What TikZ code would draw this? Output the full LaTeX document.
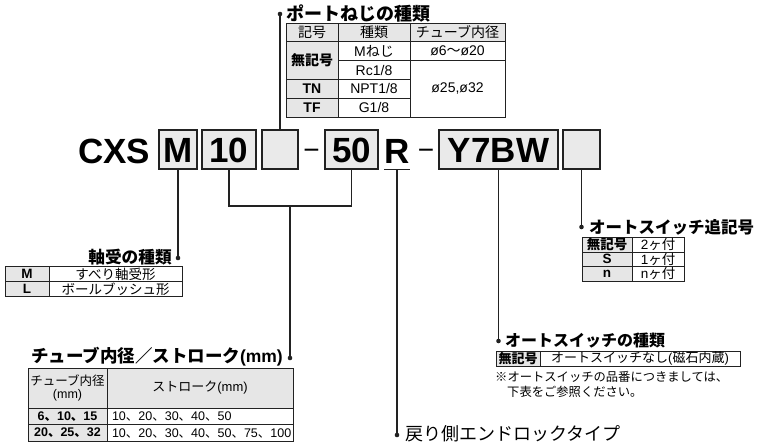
\documentclass[tikz,border=0pt]{standalone}
\usepackage{fontspec}
\setmainfont{Liberation Sans}
\newfontfamily\jp{Noto Sans CJK JP}
\newcommand\myfs[1]{\fontsize{#1}{#1}\selectfont}
\definecolor{cellgray}{HTML}{E6E6E6}
\definecolor{boxgray}{HTML}{EAEAEA}
\definecolor{ink}{HTML}{222222}
\tikzset{
  ln/.style={line width=1.1pt, draw=ink},
  dotn/.style={circle, fill=ink, inner sep=0pt, minimum size=4.6pt},
  codebox/.style={draw=ink, line width=1.2pt, fill=boxgray, minimum height=39pt,
    inner sep=0pt, text height=25pt, text depth=0pt, font=\myfs{35}\bfseries},
  codetxt/.style={inner sep=0pt, font=\myfs{35}\bfseries},
  dashtxt/.style={inner sep=0pt, font=\myfs{28}, anchor=base},
  cell/.style={draw=ink, line width=0.7pt, inner sep=0pt, align=center},
  gcell/.style={cell, fill=cellgray},
  title/.style={inner sep=0pt, font=\myfs{17}\bfseries\jp},
}
\begin{document}
\begin{tikzpicture}[x=1pt,y=-1pt]
\useasboundingbox (0,0) rectangle (758,445);
\fill[white] (0,0) rectangle (758,445);

% ---------- code line ----------
\node[codetxt, anchor=base west] (cxs) at (78,163) {CXS};
\node[codebox, minimum width=38pt]  (e1) at (178,149.5) {M};
\node[codebox, minimum width=54pt]  (e2) at (229,149.5) {10};
\node[codebox, minimum width=36pt]  (e3) at (280,149.5) {};
\node[dashtxt] (m1) at (311.5,159) {−};
\node[codebox, minimum width=53pt]  (e4) at (351.5,149.5) {50};
\node[codetxt, anchor=base] (rr) at (397,163) {R};
\node[dashtxt] (m2) at (426,159) {−};
\node[codebox, minimum width=119pt] (e5) at (498.5,149.5) {Y7BW};
\node[codebox, minimum width=37pt]  (e6) at (581.5,149.5) {};
\coordinate (ru) at (rr.base |- e1.south);
\draw[ln] (rr.west |- e1.south) -- (rr.east |- e1.south);

% ---------- dots ----------
\node[dotn] (d1) at (280,14) {};
\node[dotn] (d2) at (178,258) {};
\node[dotn] (d3) at (290,358) {};
\node[dotn] (d4) at (397,435) {};
\node[dotn] (d5) at (498.5,341) {};
\node[dotn] (d6) at (581.5,227) {};
\coordinate (bj) at (290,206);

% ---------- connectors ----------
\draw[ln] (e3.north) -- (d1.center);
\draw[ln] (e1.south) -- (d2.center);
\draw[ln] (e2.south) |- (bj) -| (e4.south);
\draw[ln] (bj) -- (d3.center);
\draw[ln] (ru) -- (d4.center);
\draw[ln] (e5.south) -- (d5.center);
\draw[ln] (e6.south) -- (d6.center);

% ---------- titles ----------
\node[title, anchor=west, font=\myfs{18}\bfseries\jp] (t1) at (286,13) {ポートねじの種類};
\node[title, anchor=east, font=\myfs{16.7}\bfseries\jp] (t2) at (172,257) {軸受の種類};
\node[title, anchor=east, font=\myfs{17.5}\bfseries] (t3) at (283,357) {{\jp チューブ内径／ストローク}(mm)};
\node[title, anchor=west, font=\myfs{16.5}\bfseries\jp] (t4) at (589,227) {オートスイッチ追記号};
\node[title, anchor=west, font=\myfs{16}\bfseries\jp] (t5) at (505,341) {オートスイッチの種類};
\node[title, anchor=west, font=\myfs{18}\jp] (t6) at (405,434) {戻り側エンドロックタイプ};

% ---------- port thread table ----------
\begin{scope}[every node/.append style={font=\myfs{14}}]
\node[gcell, minimum width=52pt, minimum height=18.8pt] (h1) at (312,32.4) {\jp 記号};
\node[gcell, minimum width=72pt, minimum height=18.8pt] (h2) at (374,32.4) {\jp 種類};
\node[gcell, minimum width=95pt, minimum height=18.8pt] (h3) at (457.5,32.4) {\jp チューブ内径};
\node[gcell, minimum width=52pt, minimum height=37.6pt, font=\myfs{14}\bfseries\jp] (a1) at (312,60.6) {無記号};
\node[gcell, minimum width=52pt, minimum height=18.8pt, font=\myfs{14}\bfseries] (a3) at (312,88.8) {TN};
\node[gcell, minimum width=52pt, minimum height=18.8pt, font=\myfs{14}\bfseries] (a4) at (312,107.6) {TF};
\node[cell, minimum width=72pt, minimum height=18.8pt] (b1) at (374,51.2) {M{\jp ねじ}};
\node[cell, minimum width=72pt, minimum height=18.8pt] (b2) at (374,70) {Rc1/8};
\node[cell, minimum width=72pt, minimum height=18.8pt] (b3) at (374,88.8) {NPT1/8};
\node[cell, minimum width=72pt, minimum height=18.8pt] (b4) at (374,107.6) {G1/8};
\node[cell, minimum width=95pt, minimum height=18.8pt] (c1) at (457.5,51.2) {ø6{\jp 〜}ø20};
\node[cell, minimum width=95pt, minimum height=56.4pt] (c2) at (457.5,88.8) {ø25,ø32};
\end{scope}

% ---------- bearing table ----------
\begin{scope}[every node/.append style={font=\myfs{13.5}}]
\node[gcell, minimum width=44pt, minimum height=15pt, font=\myfs{13.5}\bfseries] (g1) at (27,274) {M};
\node[cell, minimum width=133pt, minimum height=15pt] (g2) at (115.5,274) {\jp すべり軸受形};
\node[gcell, minimum width=44pt, minimum height=15pt, font=\myfs{13.5}\bfseries] (g3) at (27,289) {L};
\node[cell, minimum width=133pt, minimum height=15pt] (g4) at (115.5,289) {\jp ボールブッシュ形};
\end{scope}

% ---------- bore / stroke table ----------
\begin{scope}[every node/.append style={font=\myfs{12.5}}]
\node[gcell, minimum width=79pt, minimum height=40pt] (s1) at (67.5,388) {{\jp チューブ内径}\\(mm)};
\node[gcell, minimum width=186pt, minimum height=40pt, font=\myfs{13}] (s2) at (200,388) {{\jp ストローク}(mm)};
\node[gcell, minimum width=79pt, minimum height=16.5pt, font=\myfs{12.5}\bfseries] (s3) at (67.5,416.25) {6{\jp 、}10{\jp 、}15};
\node[cell, minimum width=186pt, minimum height=16.5pt, text width=176pt, align=left] (s4) at (200,416.25) {10{\jp 、}20{\jp 、}30{\jp 、}40{\jp 、}50};
\node[gcell, minimum width=79pt, minimum height=17pt, font=\myfs{12.5}\bfseries] (s5) at (67.5,433) {20{\jp 、}25{\jp 、}32};
\node[cell, minimum width=186pt, minimum height=17pt, text width=176pt, align=left] (s6) at (200,433) {10{\jp 、}20{\jp 、}30{\jp 、}40{\jp 、}50{\jp 、}75{\jp 、}100};
\end{scope}

% ---------- switch count table ----------
\begin{scope}[every node/.append style={font=\myfs{13.5}}]
\node[gcell, minimum width=50pt, minimum height=14.5pt, font=\myfs{13.5}\bfseries\jp] (k1) at (607,244.75) {無記号};
\node[cell, minimum width=52pt, minimum height=14.5pt] (k2) at (658,244.75) {2{\jp ヶ付}};
\node[gcell, minimum width=50pt, minimum height=14.5pt, font=\myfs{13.5}\bfseries] (k3) at (607,259.25) {S};
\node[cell, minimum width=52pt, minimum height=14.5pt] (k4) at (658,259.25) {1{\jp ヶ付}};
\node[gcell, minimum width=50pt, minimum height=14.5pt, font=\myfs{13.5}\bfseries] (k5) at (607,273.75) {n};
\node[cell, minimum width=52pt, minimum height=14.5pt] (k6) at (658,273.75) {n{\jp ヶ付}};
\end{scope}

% ---------- switch type ----------
\node[gcell, minimum width=44pt, minimum height=15pt, font=\myfs{13}\bfseries\jp] (w1) at (518,358.5) {無記号};
\node[cell, minimum width=200pt, minimum height=15pt, font=\myfs{13}] (w2) at (640,358.5) {{\jp オートスイッチなし}({\jp 磁石内蔵})};
\node[inner sep=0pt, anchor=west, font=\myfs{12.3}\jp] (n1) at (495,377) {※オートスイッチの品番につきましては、};
\node[inner sep=0pt, anchor=west, font=\myfs{12.3}\jp] (n2) at (507,392) {下表をご参照ください。};
\end{tikzpicture}
\end{document}
